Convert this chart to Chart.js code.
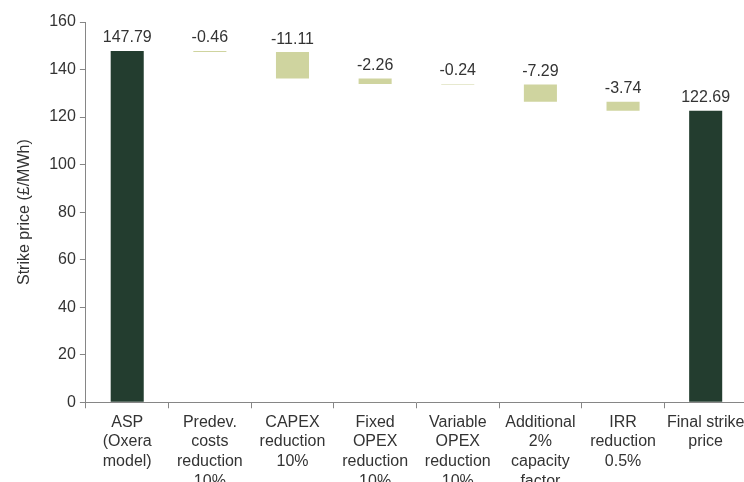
<!DOCTYPE html>
<html>
<head>
<meta charset="utf-8">
<script src="https://cdn.jsdelivr.net/npm/chart.js@4/dist/chart.umd.min.js"></script>
<style>
  html, body { margin: 0; padding: 0; background: #fff; overflow: hidden; }
  #wrap { position: relative; width: 752px; height: 505px; }
</style>
</head>
<body>
<div id="wrap"><canvas id="chart"></canvas></div>
<script>
"use strict";

// Waterfall steps
const categories = [
  ["ASP", "(Oxera", "model)"],
  ["Predev.", "costs", "reduction", "10%"],
  ["CAPEX", "reduction", "10%"],
  ["Fixed", "OPEX", "reduction", "10%"],
  ["Variable", "OPEX", "reduction", "10%"],
  ["Additional", "2%", "capacity", "factor"],
  ["IRR", "reduction", "0.5%"],
  ["Final strike", "price"],
];
const values  = [147.79, -0.46, -11.11, -2.26, -0.24, -7.29, -3.74, 122.69];
const isTotal = [true, false, false, false, false, false, false, true];
const yTicks  = [0, 20, 40, 60, 80, 100, 120, 140, 160];

const C = {
  total:  "#233d2f",
  step:   "#cfd49f",
  axis:   "#868686",
  text:   "#333333",
};

// Floating [low, high] ranges from the running total
function buildRanges() {
  let run = 0;
  return values.map((v, i) => {
    if (isTotal[i]) { run = v; return [0, v]; }
    const start = run;
    run = run + v;
    return [Math.min(start, run), Math.max(start, run)];
  });
}
const ranges = buildRanges();

const valueLabels = {
  id: "valueLabels",
  afterDatasetsDraw(chart) {
    const { ctx } = chart;
    const meta = chart.getDatasetMeta(0);
    ctx.save();
    ctx.font = "16px 'Liberation Sans', Arial, sans-serif";
    ctx.fillStyle = C.text;
    ctx.textAlign = "center";
    ctx.textBaseline = "bottom";
    meta.data.forEach((bar, i) => {
      const top = chart.scales.y.getPixelForValue(ranges[i][1]);
      ctx.fillText(values[i].toFixed(2), bar.x, top - 5);
    });
    ctx.restore();
  },
};

Chart.defaults.font.family = "'Liberation Sans', Arial, sans-serif";
Chart.defaults.color = C.text;

new Chart(document.getElementById("chart"), {
  type: "bar",
  data: {
    labels: categories,
    datasets: [{
      data: ranges,
      backgroundColor: isTotal.map((t) => (t ? C.total : C.step)),
      borderWidth: 0,
      borderSkipped: false,
      barPercentage: 0.8,
      categoryPercentage: 0.5,
    }],
  },
  options: {
    responsive: true,
    maintainAspectRatio: false,
    animation: false,
    layout: { padding: { top: 22, right: 5, left: 15, bottom: 10 } },
    plugins: { legend: { display: false }, tooltip: { enabled: false } },
    scales: {
      x: {
        grid: {
          display: true,
          drawOnChartArea: false,
          offset: true,
          color: C.axis,
          tickLength: 6,
        },
        border: { color: C.axis, width: 1 },
        ticks: {
          font: { size: 16, lineHeight: 1.23 },
          color: C.text,
          maxRotation: 0,
          autoSkip: false,
          padding: 4,
        },
      },
      y: {
        min: 0,
        max: 160,
        afterBuildTicks: (axis) => { axis.ticks = yTicks.map((v) => ({ value: v })); },
        grid: {
          drawOnChartArea: false,
          color: C.axis,
          tickLength: 6,
        },
        border: { color: C.axis, width: 1 },
        ticks: { font: { size: 16 }, color: C.text, padding: 4 },
        title: {
          display: true,
          text: "Strike price (£/MWh)",
          font: { size: 16 },
          color: C.text,
          padding: { top: 0, bottom: 11 },
        },
      },
    },
  },
  plugins: [valueLabels],
});
</script>
</body>
</html>
